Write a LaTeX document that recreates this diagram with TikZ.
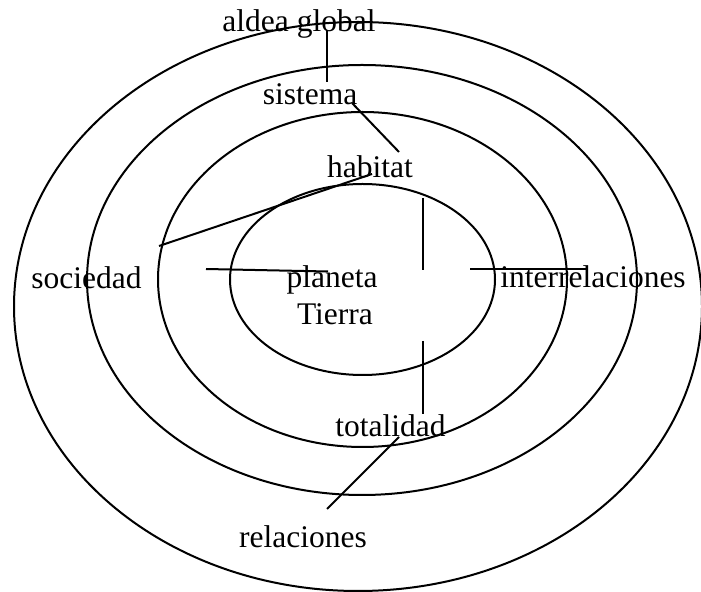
\documentclass[tikz,border=0pt]{standalone}
\usepackage{fontspec}
\setmainfont{Liberation Serif}
\begin{document}
\begin{tikzpicture}[x=0.5pt,y=-0.5pt,
  ring/.style={line width=1pt},
  leader/.style={line width=1pt},
  lbl/.style={anchor=base,inner sep=0pt,font=\fontsize{15.75}{18}\selectfont}]
\useasboundingbox (0,0) rectangle (701,592);
% rings
\draw[ring] (358,306.5) ellipse [x radius=172pt, y radius=142.25pt];
\draw[ring] (362,280) ellipse [x radius=137.5pt, y radius=107.5pt];
\draw[ring] (362.5,279.5) ellipse [x radius=102.25pt, y radius=83.75pt];
\draw[ring] (362.5,279.5) ellipse [x radius=66.25pt, y radius=47.75pt];
% labels
\node[lbl] (aldea) at (299,32) {aldea global};
\node[lbl] (sistema) at (310,105) {sistema};
\node[lbl] (habitat) at (370,178) {habitat};
\node[lbl] (sociedad) at (86.5,289) {sociedad};
\node[lbl] (planeta) at (332,288) {planeta};
\node[lbl] (tierra) at (335,325) {Tierra};
\node[lbl] (inter) at (593,288) {interrelaciones};
\node[lbl] (totalidad) at (390.5,437) {totalidad};
\node[lbl] (relaciones) at (303,547) {relaciones};
% leader end points
\coordinate (a1) at (327,30);   \coordinate (a2) at (327,82);
\coordinate (s1) at (352,103);  \coordinate (s2) at (399,152);
\coordinate (h1) at (372,174);  \coordinate (h2) at (159,246);
\coordinate (so1) at (206,269); \coordinate (so2) at (328,271.5);
\coordinate (v1) at (422.5,198); \coordinate (v2) at (422.5,270);
\coordinate (i1) at (470,269);  \coordinate (i2) at (587,269);
\coordinate (v3) at (422.5,341); \coordinate (v4) at (422.5,414);
\coordinate (r1) at (399,437);  \coordinate (r2) at (327,509);
% leaders
\draw[leader] (a1) -- (a2);
\draw[leader] (s1) -- (s2);
\draw[leader] (h1) -- (h2);
\draw[leader] (so1) -- (so2);
\draw[leader] (v1) -- (v2);
\draw[leader] (i1) -- (i2);
\draw[leader] (v3) -- (v4);
\draw[leader] (r1) -- (r2);
\end{tikzpicture}
\end{document}
